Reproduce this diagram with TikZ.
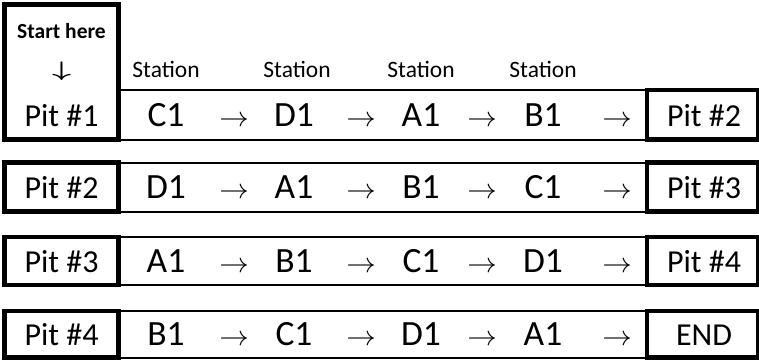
\documentclass[tikz,border=0pt]{standalone}
\usepackage{graphicx}
\usepackage{fontspec}
\setmainfont{Carlito}
\begin{document}
\begin{tikzpicture}[x=1pt,y=-1pt,
  thickbox/.style={line width=4.8pt},
  thinline/.style={line width=2pt},
  pit/.style={inner sep=0,anchor=base,font=\fontsize{32}{38}\selectfont},
  cell/.style={inner sep=0,anchor=base,font=\fontsize{35.5}{42}\selectfont},
  arr/.style={inner sep=0,anchor=base,font=\fontsize{10}{12}\selectfont},
  lbl/.style={inner sep=0,anchor=base,font=\fontsize{23.5}{28}\selectfont},
  hdr/.style={inner sep=0,anchor=base,font=\bfseries\fontsize{21.5}{25}\selectfont},
  darr/.style={inner sep=0,anchor=center,font=\fontsize{10}{12}\selectfont\boldmath},
]
\useasboundingbox (0,0) rectangle (759,360);
% header
\node[hdr] (start) at (61.5,38) {Start here};
\node[darr] (down) at (61.5,71) {\scalebox{3.3}[2.1]{$\downarrow$}};
\foreach \xx [count=\c] in {166,297,421,543}
  \node[lbl] (st\c) at (\xx,77) {Station};
% rows
\foreach \r/\t/\b/\L/\R/\seq in {
  1/90/139.5/{Pit \#1}/{Pit \#2}/{C1,D1,A1,B1},
  2/162.5/211.5/{Pit \#2}/{Pit \#3}/{D1,A1,B1,C1},
  3/237/285/{Pit \#3}/{Pit \#4}/{A1,B1,C1,D1},
  4/311/357.5/{Pit \#4}/{END}/{B1,C1,D1,A1}}{
  \pgfmathsetmacro\base{(\t+\b)/2+11.5}
  \pgfmathsetmacro\lt{\r==1 ? 4.7 : \t}
  \draw[thinline] (118.3,\t) -- (647,\t) (118.3,\b) -- (647,\b);
  \draw[thickbox] (4.5,\lt) rectangle (118.3,\b);
  \draw[thickbox] (647,\t) rectangle (758.5,\b);
  \node[pit] (left\r) at (61.5,\base) {\L};
  \node[pit] (right\r) at (704,\base) {\R};
  \foreach \s [count=\c] in \seq {
    \pgfmathsetmacro\xx{{166,294,421,543}[\c-1]}
    \node[cell] (s\r-\c) at (\xx,\base) {\s};
  }
  \foreach \ax [count=\c] in {234,361,482,617}
    \node[arr] (a\r-\c) at (\ax,\base) {\scalebox{2.95}[2.8]{$\rightarrow$}};
}
\end{tikzpicture}
\end{document}
